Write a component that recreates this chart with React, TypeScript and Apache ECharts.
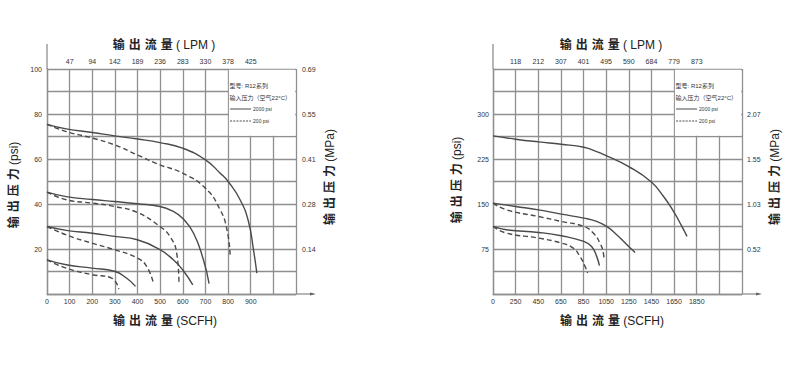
import { useEffect, useRef } from "react";
import * as echarts from "echarts";

// ---------- Left chart (0–100 psi) ----------
const leftScfhTicks = [0, 100, 200, 300, 400, 500, 600, 700, 800, 900];
const leftLpmTicks = ["47", "94", "142", "189", "236", "283", "330", "378", "425"]; // at 100..900 SCFH
const leftPsiTicks = [20, 40, 60, 80, 100];
const leftMpaTicks = ["0.14", "0.28", "0.41", "0.55", "0.69"];

const left75Solid = [[0, 75.4], [85, 73.4], [200, 71.8], [298, 70.3], [400, 68.9], [499, 67.3], [599, 64.8], [700, 59.6], [765, 53.7], [800, 50], [853, 41.9], [890, 32.2], [912, 19.7], [927, 9.3]];
const left75Dashed = [[0, 75.4], [85, 72.2], [200, 69.3], [298, 66.3], [399, 61.8], [499, 57.4], [599, 53.7], [700, 47], [765, 37.4], [795, 28.6], [809, 17.5]];
const left45Solid = [[0, 45.3], [85, 43.3], [200, 42], [298, 41.1], [399, 40.1], [499, 38.9], [558, 36.7], [599, 33.7], [647, 27.1], [691, 15.2], [716, 4.6]];
const left45Dashed = [[0, 45.3], [85, 41.9], [198, 40.4], [298, 38.9], [399, 36.2], [499, 30], [543, 25.6], [573, 18.2], [583, 4.9]];
const left30Solid = [[0, 30], [85, 28.3], [200, 27], [298, 25.6], [399, 24.1], [499, 19.7], [558, 15.2], [599, 10.8], [644, 4.1]];
const left30Dashed = [[0, 30], [85, 26.3], [198, 22.6], [298, 19.7], [399, 16], [440, 12.3], [470, 4.8]];
const left15Solid = [[0, 15.2], [85, 13], [198, 11.5], [298, 10.1], [351, 7.1], [391, 3.4]];
const left15Dashed = [[0, 15.2], [85, 11.5], [198, 8.6], [285, 7.1], [317, 2.2]];

// ---------- Right chart (0–375 psi) ----------
const rightScfhTicks = ["0", "250", "450", "650", "850", "1050", "1250", "1450", "1650", "1850"]; // at 50, 250 … 1850
const rightLpmTicks = ["118", "212", "307", "401", "495", "590", "684", "779", "873"]; // at 250..1850 SCFH
const rightPsiTicks = [75, 150, 225, 300];
const rightMpaTicks = ["0.52", "1.03", "1.55", "2.07"];

const right262Solid = [[50, 263.5], [251, 258], [452, 253.5], [653, 249.6], [853, 244.6], [966, 237.4], [1054, 230.2], [1249, 212.4], [1444, 187.5], [1557, 162.5], [1645, 137.6], [1719, 112.6], [1764, 96]];
const right150Solid = [[50, 151.4], [251, 145.9], [452, 140.3], [653, 133.1], [853, 126.5], [966, 120.9], [1054, 112.6], [1143, 98.7], [1249, 79.3], [1306, 69.3]];
const right150Dashed = [[50, 151.4], [168, 140.3], [452, 129.2], [653, 120.9], [853, 112.6], [936, 101.5], [995, 84.9], [1025, 68.2], [1031, 57.1]];
const right112Solid = [[50, 112.6], [168, 107.1], [452, 102.6], [653, 97.1], [853, 87.6], [921, 79.3], [966, 62.7], [990, 47.1]];
const right112Dashed = [[50, 112.6], [168, 101.5], [452, 93.2], [653, 84.9], [759, 76.5], [818, 62.7], [863, 46], [886, 34.9]];

const legendTitle = "型号: R12系列";
const legendSub = "输入压力（空气22°C）";
const legendSolid = "2000 psi";
const legendDashed = "200 psi";

const flowTitle = "输\u2004出\u2004流\u2004量";
const pressTitle = "输\u2004出\u2004压\u2004力";

const GRID = "#8f8f8f";
const CURVE = "#4a4a4a";
const TEXT = "#333";
const FONT = "'Liberation Sans', Arial, 'Noto Sans CJK SC', sans-serif";

function curve(data: number[][], dashed: boolean, ax: number) {
  return {
    type: "line",
    data,
    xAxisIndex: ax,
    yAxisIndex: ax,
    symbol: "none",
    smooth: 0.5,
    lineStyle: { color: CURVE, width: 1.4, type: dashed ? [5, 3] : "solid" },
    silent: true,
  };
}

const labelStyle = { color: TEXT, fontSize: 7, fontFamily: FONT };

export default function App() {
  const ref = useRef<HTMLDivElement>(null);
  useEffect(() => {
    const chart = echarts.init(ref.current!, undefined, { renderer: "svg" });
    const xBase = (gridIndex: number, min: number, max: number, interval: number, position: string, fmt: (v: number) => string, isMain: boolean) => ({
      type: "value",
      gridIndex,
      position,
      min,
      max,
      interval,
      axisLine: { show: isMain, onZero: false, lineStyle: { color: GRID, width: 1.3 } },
      axisTick: { show: false },
      splitLine: { show: isMain, lineStyle: { color: GRID, width: 1.3 } },
      axisLabel: { ...labelStyle, margin: 4, showMinLabel: true, showMaxLabel: true, formatter: fmt },
    });
    const yBase = (gridIndex: number, min: number, max: number, interval: number, position: string, fmt: (v: number) => string, isMain: boolean, margin: number) => ({
      type: "value",
      gridIndex,
      position,
      min,
      max,
      interval,
      axisLine: { show: isMain, onZero: false, lineStyle: { color: GRID, width: 1.3 } },
      axisTick: { show: false },
      splitLine: { show: isMain, lineStyle: { color: GRID, width: 1.3 } },
      axisLabel: { ...labelStyle, margin, showMinLabel: true, showMaxLabel: true, formatter: fmt },
    });

    const option: any = {
      animation: false,
      backgroundColor: "#fff",
      grid: [
        { left: 47, top: 69, width: 249, height: 225 },
        { left: 493, top: 69, width: 249, height: 225 },
      ],
      xAxis: [
        xBase(0, 0, 1100, 100, "bottom", (v) => (leftScfhTicks.includes(v) ? String(v) : ""), true),
        xBase(0, 0, 1100, 100, "top", (v) => {
          const i = Math.round(v / 100) - 1;
          return i >= 0 && i < leftLpmTicks.length ? leftLpmTicks[i] : "";
        }, false),
        xBase(1, 50, 2250, 200, "bottom", (v) => {
          const i = Math.round((v - 50) / 200);
          return i >= 0 && i < rightScfhTicks.length ? rightScfhTicks[i] : "";
        }, true),
        xBase(1, 50, 2250, 200, "top", (v) => {
          const i = Math.round((v - 250) / 200);
          return i >= 0 && i < rightLpmTicks.length ? rightLpmTicks[i] : "";
        }, false),
      ],
      yAxis: [
        yBase(0, 0, 100, 10, "left", (v) => (leftPsiTicks.includes(v) ? String(v) : ""), true, 5),
        yBase(0, 0, 100, 10, "right", (v) => {
          const i = leftPsiTicks.indexOf(v);
          return i >= 0 ? leftMpaTicks[i] : "";
        }, false, 6),
        yBase(1, 0, 375, 37.5, "left", (v) => (rightPsiTicks.includes(v) ? String(v) : ""), true, 4),
        yBase(1, 0, 375, 37.5, "right", (v) => {
          const i = rightPsiTicks.indexOf(v);
          return i >= 0 ? rightMpaTicks[i] : "";
        }, false, 5),
      ],
      series: [
        curve(left75Solid, false, 0),
        curve(left75Dashed, true, 0),
        curve(left45Solid, false, 0),
        curve(left45Dashed, true, 0),
        curve(left30Solid, false, 0),
        curve(left30Dashed, true, 0),
        curve(left15Solid, false, 0),
        curve(left15Dashed, true, 0),
        curve(right262Solid, false, 2),
        curve(right150Solid, false, 2),
        curve(right150Dashed, true, 2),
        curve(right112Solid, false, 2),
        curve(right112Dashed, true, 2),
      ],
    };
    chart.setOption(option);

    const px = (gi: number, p: number[]) => chart.convertToPixel({ gridIndex: gi } as any, p) as number[];
    const graphics: any[] = [];
    const title = (cjk: string, latin: string, x: number, y: number, rot = 0) => ({
      type: "text",
      x,
      y,
      rotation: rot,
      z: 5,
      style: {
        text: `{c|${cjk}} {l|${latin}}`,
        x: 0,
        y: 0,
        align: "center",
        verticalAlign: "middle",
        rich: {
          c: { fontSize: 12, fontWeight: "bold", fontFamily: FONT, fill: "#222" },
          l: { fontSize: 12, fontWeight: "normal", fontFamily: FONT, fill: "#222" },
        },
      },
    });

    const legend = (gi: number, box0: number[], box1: number[]) => {
      const a = px(gi, box0);
      const b = px(gi, box1);
      const bx = a[0], by = a[1];
      graphics.push({
        type: "rect",
        z: 1,
        shape: { x: a[0] + 0.8, y: a[1] + 0.8, width: b[0] - a[0] - 1.6, height: b[1] - a[1] - 1.6 },
        style: { fill: "#fff" },
      });
      const t = (text: string, x: number, y: number, size: number) => ({
        type: "text", z: 5,
        style: { text, x, y, fill: TEXT, font: `${size}px ${FONT}`, align: "left", verticalAlign: "middle" },
      });
      graphics.push(t(legendTitle, bx + 1.5, by + 17, 6));
      graphics.push(t(legendSub, bx + 1.5, by + 29, 6));
      graphics.push({ type: "line", z: 5, shape: { x1: bx + 2, y1: by + 40, x2: bx + 23, y2: by + 40 }, style: { stroke: CURVE, lineWidth: 1 } });
      graphics.push(t(legendSolid, bx + 25, by + 40, 5));
      graphics.push({ type: "line", z: 5, shape: { x1: bx + 2, y1: by + 52, x2: bx + 23, y2: by + 52 }, style: { stroke: CURVE, lineWidth: 1, lineDash: [2, 1.2] } });
      graphics.push(t(legendDashed, bx + 25, by + 52, 5));
    };

    const extensions = (gi: number, origin: number[], corner: number[]) => {
      const o = px(gi, origin);
      const c = px(gi, corner);
      graphics.push({ type: "line", z: 3, shape: { x1: o[0], y1: c[1], x2: o[0], y2: c[1] - 25 }, style: { stroke: GRID, lineWidth: 1.3 } });
      graphics.push({ type: "line", z: 3, shape: { x1: c[0], y1: o[1], x2: c[0] + 17, y2: o[1] }, style: { stroke: GRID, lineWidth: 1.3 } });
      graphics.push({ type: "polygon", z: 3, shape: { points: [[c[0] + 20, o[1]], [c[0] + 14, o[1] - 1.6], [c[0] + 14, o[1] + 1.6]] }, style: { fill: "#666" } });
    };

    legend(0, [800, 100], [1100, 70]);
    legend(1, [1650, 375], [2250, 262.5]);
    extensions(0, [0, 0], [1100, 100]);
    extensions(1, [50, 0], [2250, 375]);

    graphics.push(title(flowTitle, "( LPM )", 164, 45));
    graphics.push(title(flowTitle, "(SCFH)", 165, 321));
    graphics.push(title(pressTitle, "(psi)", 14, 185, Math.PI / 2));
    graphics.push(title(pressTitle, "(MPa)", 330, 177, Math.PI / 2));
    graphics.push(title(flowTitle, "( LPM )", 611, 45));
    graphics.push(title(flowTitle, "(SCFH)", 612, 321));
    graphics.push(title(pressTitle, "(psi)", 457, 180, Math.PI / 2));
    graphics.push(title(pressTitle, "(MPa)", 775, 177, Math.PI / 2));

    chart.setOption({ graphic: graphics });
    return () => chart.dispose();
  }, []);
  return (
    <div
      ref={ref}
      style={{ position: "absolute", left: 0, top: 0, width: 790, height: 380, background: "#fff" }}
    />
  );
}
